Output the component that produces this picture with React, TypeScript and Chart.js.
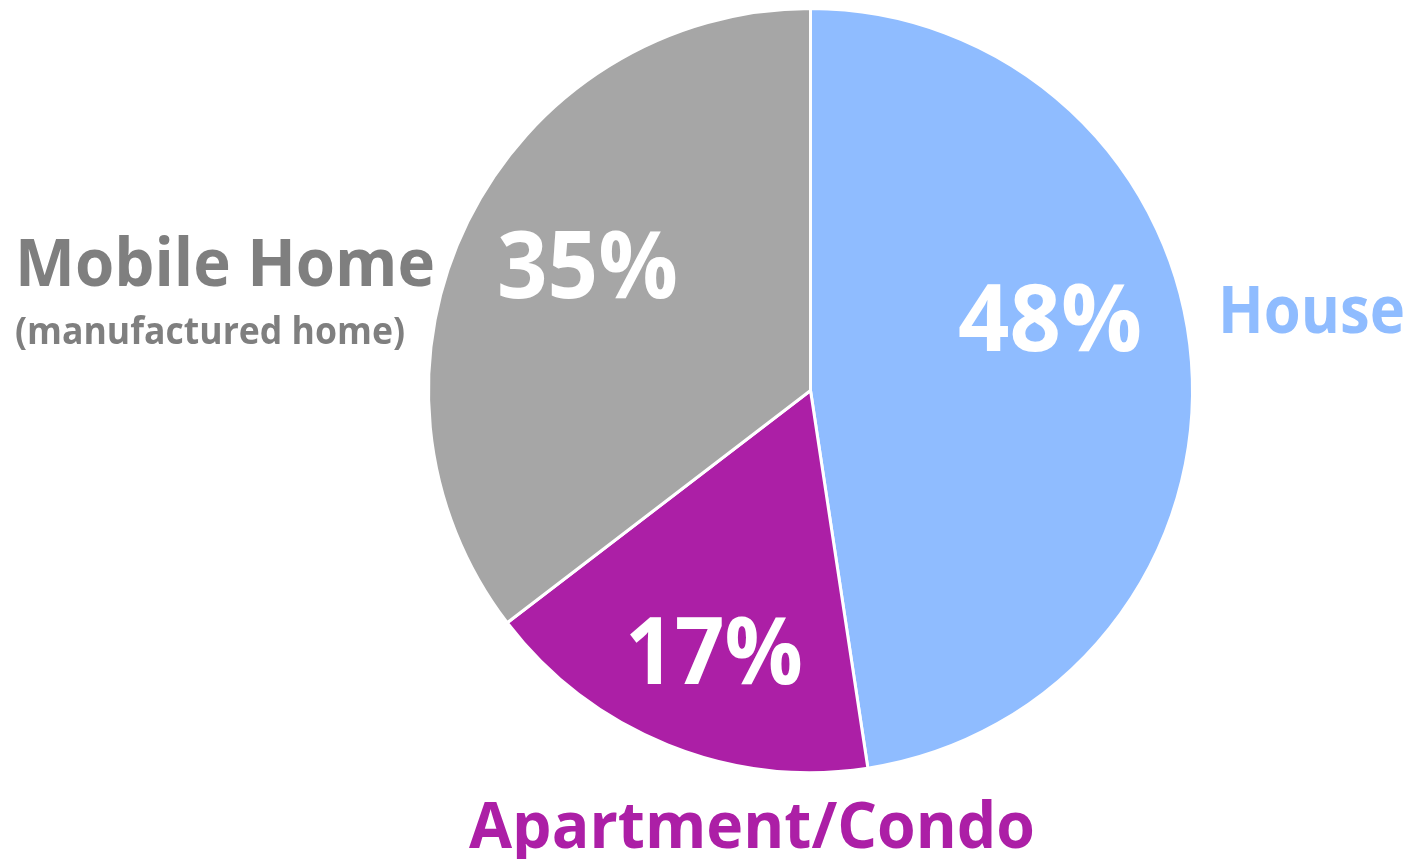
import React, { useEffect, useRef } from "react";
import { Chart, registerables } from "chart.js";

Chart.register(...registerables);

const categories = ["House", "Apartment/Condo", "Mobile Home"];
const values = [47.6, 17.0, 35.4];
const percentLabels = ["48%", "17%", "35%"];
const sliceColors = ["#8FBCFF", "#AC1FA6", "#A6A6A6"];
const labelColors = ["#8FBCFF", "#AC1FA6", "#7F7F7F"];
const subLabel = "(manufactured home)";

const FONT = "'Open Sans', Lato, sans-serif";

const labelPlugin = {
  id: "pieLabels",
  afterDatasetsDraw(chart: any) {
    const ctx = chart.ctx as CanvasRenderingContext2D;
    ctx.save();
    ctx.textAlign = "left";
    ctx.textBaseline = "alphabetic";

    // percent labels inside slices: [x, baseline, maxWidth, size]
    const pctPos: [number, number, number, number][] = [
      [958, 351, 184, 94],
      [625, 684, 178, 94],
      [497, 298, 181, 94],
    ];
    ctx.fillStyle = "#FFFFFF";
    percentLabels.forEach((t, i) => {
      const [x, y, w, s] = pctPos[i];
      ctx.font = `bold ${s}px ${FONT}`;
      ctx.fillText(t, x, y, w);
    });

    // category labels outside
    const catPos: [number, number, number, number][] = [
      [1218, 333, 187, 67],
      [469, 848, 566, 65],
      [15, 286, 420, 67],
    ];
    categories.forEach((t, i) => {
      const [x, y, w, s] = catPos[i];
      ctx.fillStyle = labelColors[i];
      ctx.font = `bold ${s}px ${FONT}`;
      ctx.fillText(t, x, y, w);
    });
    ctx.fillStyle = labelColors[2];
    ctx.font = `bold 38px ${FONT}`;
    ctx.fillText(subLabel, 15, 344, 390);
    ctx.restore();
  },
};

export default function App() {
  const ref = useRef<HTMLCanvasElement | null>(null);
  useEffect(() => {
    if (!ref.current) return;
    const chart = new Chart(ref.current, {
      type: "pie",
      data: {
        labels: categories,
        datasets: [
          {
            data: values,
            backgroundColor: sliceColors,
            borderColor: "#FFFFFF",
            borderWidth: 3,
          },
        ],
      },
      options: {
        responsive: false,
        animation: false,
        layout: { padding: { top: 7, bottom: 85, left: 427, right: 218 } },
        plugins: {
          legend: { display: false },
          tooltip: { enabled: false },
        },
      },
      plugins: [labelPlugin],
    });
    return () => chart.destroy();
  }, []);
  return (
    <div style={{ position: "fixed", left: 0, top: 0, width: 1412, height: 859, background: "#fff" }}>
      <canvas ref={ref} width={1412} height={859} style={{ width: 1412, height: 859 }} />
    </div>
  );
}
